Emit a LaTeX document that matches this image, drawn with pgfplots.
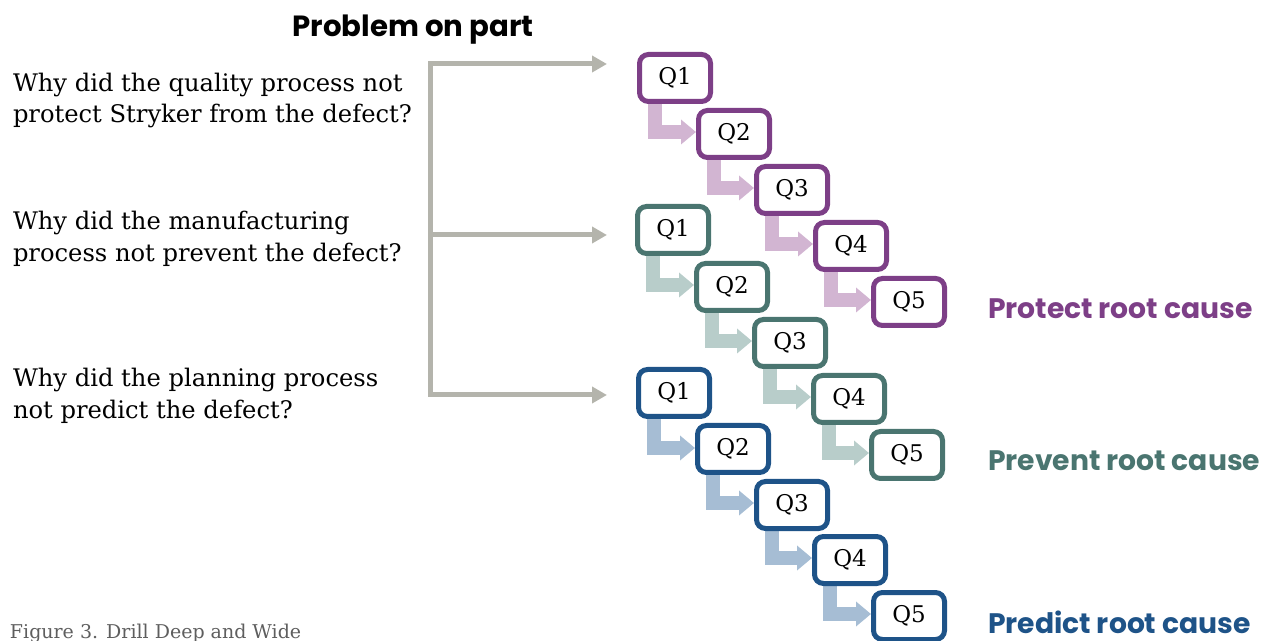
\documentclass[border=0pt]{standalone}
\usepackage{pgfplots}
\pgfplotsset{compat=1.18}
\usepackage{pgfplotstable}
\usepackage{fontspec}
\setmainfont{DejaVu Serif}
\newfontfamily\headfont{Poppins}
\usetikzlibrary{arrows.meta}

\definecolor{grayline}{HTML}{B4B4AC}
\definecolor{pborder}{HTML}{7D3F87}
\definecolor{plight}{HTML}{D2B5D2}
\definecolor{tborder}{HTML}{4A7570}
\definecolor{tlight}{HTML}{B8CDCA}
\definecolor{bborder}{HTML}{1E5388}
\definecolor{blight}{HTML}{A6BDD4}
\definecolor{captiongray}{HTML}{5E5E5E}

\pgfplotstableread{
x y label
675 78 Q1
734 134 Q2
792 190 Q3
851 246 Q4
909 302 Q5
}\purplebox
\pgfplotstableread{
x y label
673 230 Q1
732 287 Q2
790 343 Q3
849 399 Q4
907 455 Q5
}\tealbox
\pgfplotstableread{
x y label
674 393 Q1
733 449 Q2
792 505 Q3
850 560 Q4
909 616 Q5
}\bluebox

\tikzset{
  qbox/.style={anchor=center, fill=white, text=black, line width=2.5pt,
    rounded corners=4.5pt, minimum width=35.5pt, minimum height=23.5pt,
    inner sep=0pt, font=\fontsize{11.5}{12}\selectfont},
  txt/.style={anchor=base west, inner sep=0pt, outer sep=0pt},
}
\pgfplotsset{
  elbow/.style={mark=none, line width=7pt, line join=miter,
    -{Triangle[width=12pt,length=7.5pt]}, #1},
}

\newcommand{\bodyfont}{\fontsize{12.1}{14}\selectfont}
\newcommand{\titlefont}{\headfont\bfseries\fontsize{14.6}{16}\selectfont}
\newcommand{\labelfont}{\headfont\bfseries\fontsize{14.1}{16}\selectfont}

\begin{document}
\begin{tikzpicture}
\begin{axis}[
  scale only axis, width=634.5pt, height=320.5pt,
  xmin=0, xmax=1269, ymin=0, ymax=641, y dir=reverse,
  hide axis, clip=false,
]
% bracket
\addplot[mark=none, color=grayline, line width=2.5pt, line join=miter,
  {Triangle[width=8pt,length=7.5pt]}-{Triangle[width=8pt,length=7.5pt]}]
  coordinates {(607,64) (430,64) (430,395) (607,395)};
\addplot[mark=none, color=grayline, line width=2.5pt,
  -{Triangle[width=8pt,length=7.5pt]}]
  coordinates {(430,235) (607,235)};

% purple elbows
\addplot[elbow=plight] coordinates {(655,98) (655,132) (696,132)};
\addplot[elbow=plight] coordinates {(714,154) (714,188) (754,188)};
\addplot[elbow=plight] coordinates {(772,210) (772,244) (813,244)};
\addplot[elbow=plight] coordinates {(831,266) (831,300) (871,300)};
% teal elbows
\addplot[elbow=tlight] coordinates {(653,250) (653,285) (694,285)};
\addplot[elbow=tlight] coordinates {(712,307) (712,341) (752,341)};
\addplot[elbow=tlight] coordinates {(770,363) (770,397) (811,397)};
\addplot[elbow=tlight] coordinates {(829,419) (829,453) (869,453)};
% blue elbows
\addplot[elbow=blight] coordinates {(654,413) (654,448) (695,448)};
\addplot[elbow=blight] coordinates {(713,469) (713,503) (754,503)};
\addplot[elbow=blight] coordinates {(772,525) (772,558) (812,558)};
\addplot[elbow=blight] coordinates {(830,580) (830,614) (871,614)};

% boxes
\addplot[draw=none, mark=none, nodes near coords, point meta=explicit symbolic,
  every node near coord/.append style={qbox, draw=pborder}]
  table[x=x, y=y, meta=label]{\purplebox};
\addplot[draw=none, mark=none, nodes near coords, point meta=explicit symbolic,
  every node near coord/.append style={qbox, draw=tborder}]
  table[x=x, y=y, meta=label]{\tealbox};
\addplot[draw=none, mark=none, nodes near coords, point meta=explicit symbolic,
  every node near coord/.append style={qbox, draw=bborder}]
  table[x=x, y=y, meta=label]{\bluebox};

% texts
\node[anchor=base, inner sep=0pt, font=\titlefont] at (axis cs:413,37) {Problem on part};
\node[txt, font=\bodyfont] at (axis cs:13,91.5) {Why did the quality process not};
\node[txt, font=\bodyfont] at (axis cs:13,123) {protect Stryker from the defect?};
\node[txt, font=\bodyfont] at (axis cs:13,230) {Why did the manufacturing};
\node[txt, font=\bodyfont] at (axis cs:13,261.5) {process not prevent the defect?};
\node[txt, font=\bodyfont] at (axis cs:13,387) {Why did the planning process};
\node[txt, font=\bodyfont] at (axis cs:13,418.5) {not predict the defect?};

\node[txt, font=\labelfont, text=pborder] at (axis cs:988,319) {Protect root cause};
\node[txt, font=\labelfont, text=tborder] at (axis cs:988,471) {Prevent root cause};
\node[txt, font=\labelfont, text=bborder] at (axis cs:988,633) {Predict root cause};

\node[txt, font=\fontsize{9.5}{10}\selectfont, text=captiongray] at (axis cs:10,638) {Figure 3. Drill Deep and Wide};
\end{axis}
\pgfresetboundingbox
\path[use as bounding box] (current axis.south west) rectangle (current axis.north east);
\end{tikzpicture}
\end{document}
